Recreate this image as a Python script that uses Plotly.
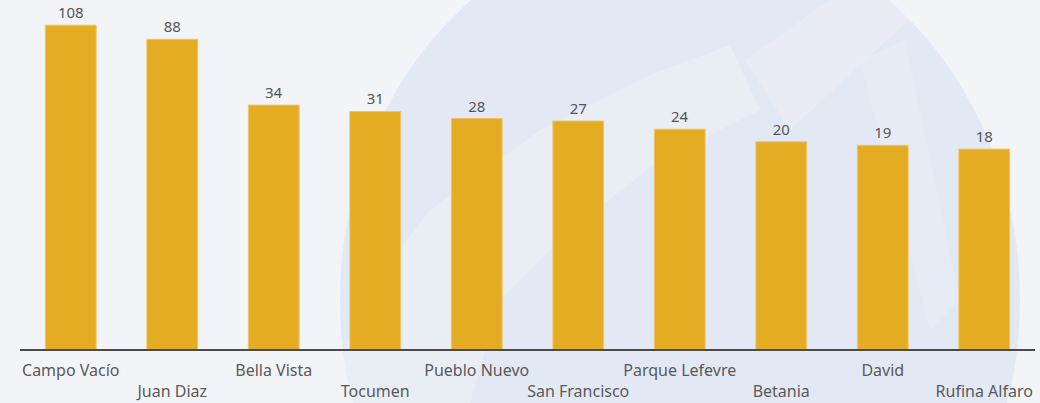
import plotly.graph_objects as go

barrios = ["Campo Vacío", "Juan Diaz", "Bella Vista", "Tocumen", "Pueblo Nuevo",
           "San Francisco", "Parque Lefevre", "Betania", "David", "Rufina Alfaro"]
casos = [108, 88, 34, 31, 28, 27, 24, 20, 19, 18]

# staggered category labels: every second one drops a line
etiquetas = [b if i % 2 == 0 else "<br>" + b for i, b in enumerate(barrios)]

W, H = 1040, 403
ML, MR, MT, MB = 20, 5, 5, 54


def px(x, y):
    # pixel position -> paper coordinates (for the watermark only)
    return (x - ML) / (W - ML - MR), (H - MB - y) / (H - MT - MB)


def path(points, close=True):
    parts = []
    for i, (x, y) in enumerate(points):
        u, v = px(x, y)
        parts.append(("M" if i == 0 else "L") + f" {u:.4f} {v:.4f}")
    return " ".join(parts) + (" Z" if close else "")


fig = go.Figure()
fig.add_trace(go.Bar(
    x=barrios, y=casos,
    marker=dict(color="#E4AC22", line=dict(color="#EDC46A", width=1)),
    text=casos, textposition="outside", cliponaxis=False,
    textfont=dict(size=15, color="#555555"),
))

# faint logo watermark in the background
x0, y0 = px(340, 680)
x1, y1 = px(1020, -80)
fig.add_shape(type="circle", xref="paper", yref="paper", layer="below",
              x0=x0, x1=x1, y0=y0, y1=y1,
              fillcolor="rgba(205,216,241,0.42)", line_width=0)
fig.add_shape(type="path", xref="paper", yref="paper", layer="below",
              path=path([(330, 403), (360, 300), (430, 210), (540, 130), (650, 75),
                         (730, 45), (760, 110), (660, 160), (570, 230), (500, 300),
                         (470, 403)]),
              fillcolor="rgba(243,244,247,0.4)", line_width=0)
fig.add_shape(type="path", xref="paper", yref="paper", layer="below",
              path=path([(745, 60), (830, 0), (930, 0), (790, 130)]),
              fillcolor="rgba(243,244,247,0.35)", line_width=0)
fig.add_shape(type="path", xref="paper", yref="paper", layer="below",
              path=path([(860, 60), (905, 40), (960, 300), (930, 330)]),
              fillcolor="rgba(243,244,247,0.25)", line_width=0)

fig.update_layout(
    width=W, height=H,
    margin=dict(l=ML, r=MR, t=MT, b=MB),
    paper_bgcolor="#F3F4F7", plot_bgcolor="rgba(0,0,0,0)",
    font=dict(family="Noto Sans, Open Sans, sans-serif", size=15, color="#595959"),
    showlegend=False, bargap=0.5,
)
fig.update_xaxes(tickmode="array", tickvals=barrios, ticktext=etiquetas,
                 tickangle=0, showline=True, linecolor="#4a4a4a", linewidth=2,
                 ticks="", showgrid=False, ticklabelstandoff=6, automargin=False,
                 tickfont=dict(size=16, color="#595959"))
fig.update_yaxes(type="log", range=[0, 2.16], visible=False, showgrid=False)

fig.write_html("out.html", config={"displayModeBar": False},
               post_script="document.body.style.margin='0';")
